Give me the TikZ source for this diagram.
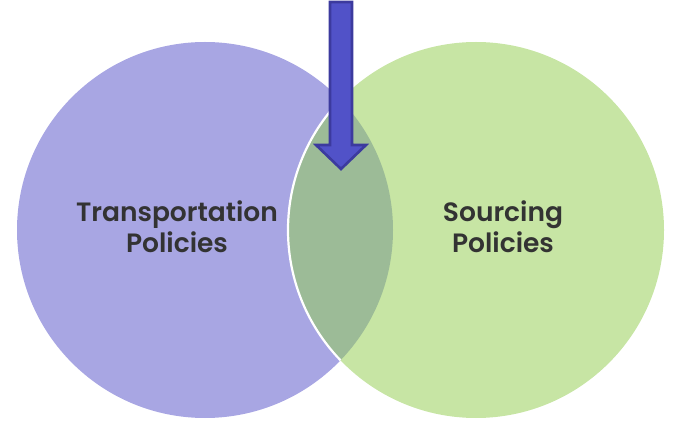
\documentclass[tikz,border=0pt]{standalone}
\usepackage{fontspec}
\setmainfont{Poppins}[BoldFont={Poppins SemiBold}]
\definecolor{lpurple}{HTML}{A8A6E3}
\definecolor{lgreen}{HTML}{C7E5A4}
\definecolor{dgreen}{HTML}{9CBB97}
\definecolor{arrfill}{HTML}{5152C8}
\definecolor{arrline}{HTML}{3C3A9E}
\definecolor{txt}{HTML}{333333}
\begin{document}
\begin{tikzpicture}[x=1pt,y=-1pt,
  lbl/.style={text=txt,font=\fontsize{26.5}{31}\selectfont\bfseries,align=center}]
\useasboundingbox (0,0) rectangle (682,427);
\fill[lpurple] (205,230) circle (188);
\fill[lgreen] (476,230) circle (188);
\begin{scope}
  \clip (476,230) circle (188);
  \fill[dgreen] (205,230) circle (188);
\end{scope}
\begin{scope}
  \clip (205,230) circle (188);
  \draw[white,line width=2.2] (476,230) circle (188);
\end{scope}
\node[lbl] (t) at (177,227) {Transportation\\Policies};
\node[lbl] (s) at (503,227) {Sourcing\\Policies};
\draw[fill=arrfill,draw=arrline,line width=2.6,line join=miter]
  (330,2) -- (352,2) -- (352,145) -- (366,145) -- (341,169) -- (316,145) -- (330,145) -- cycle;
\end{tikzpicture}
\end{document}
